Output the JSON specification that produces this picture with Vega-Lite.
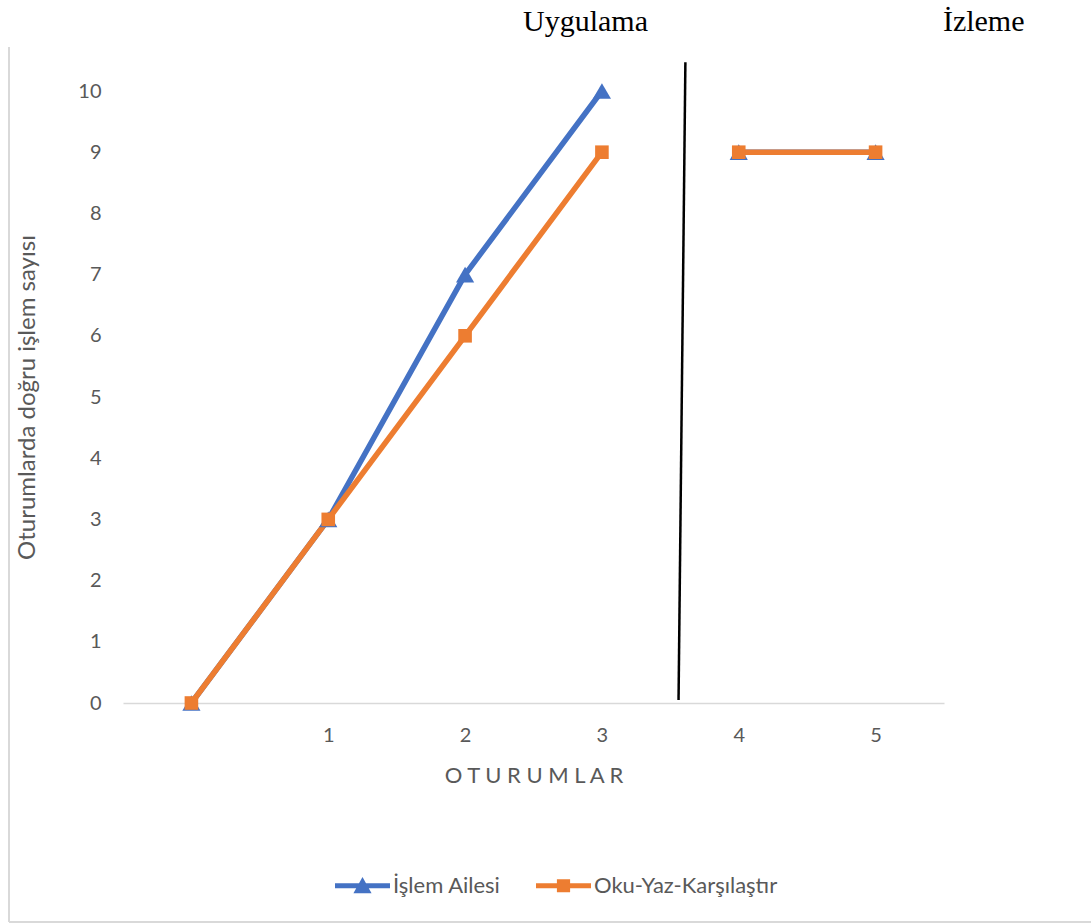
{
  "$schema": "https://vega.github.io/schema/vega-lite/v6.json",
  "width": 821,
  "height": 612,
  "autosize": {"type": "none"},
  "padding": {"left": 123, "top": 91, "right": 147, "bottom": 221},
  "background": "white",
  "config": {
    "view": {"stroke": null},
    "font": "Lato",
    "axis": {"labelColor": "#595959", "titleColor": "#595959", "titleFontWeight": "normal", "labelFontSize": 20, "titleFontSize": 22, "ticks": false, "grid": false}
  },
  "data": {
    "values": [
      {"seri": "İşlem Ailesi", "oturum": 0, "deger": 0, "evre": "Uygulama"},
      {"seri": "İşlem Ailesi", "oturum": 1, "deger": 3, "evre": "Uygulama"},
      {"seri": "İşlem Ailesi", "oturum": 2, "deger": 7, "evre": "Uygulama"},
      {"seri": "İşlem Ailesi", "oturum": 3, "deger": 10, "evre": "Uygulama"},
      {"seri": "İşlem Ailesi", "oturum": 4, "deger": 9, "evre": "İzleme"},
      {"seri": "İşlem Ailesi", "oturum": 5, "deger": 9, "evre": "İzleme"},
      {"seri": "Oku-Yaz-Karşılaştır", "oturum": 0, "deger": 0, "evre": "Uygulama"},
      {"seri": "Oku-Yaz-Karşılaştır", "oturum": 1, "deger": 3, "evre": "Uygulama"},
      {"seri": "Oku-Yaz-Karşılaştır", "oturum": 2, "deger": 6, "evre": "Uygulama"},
      {"seri": "Oku-Yaz-Karşılaştır", "oturum": 3, "deger": 9, "evre": "Uygulama"},
      {"seri": "Oku-Yaz-Karşılaştır", "oturum": 4, "deger": 9, "evre": "İzleme"},
      {"seri": "Oku-Yaz-Karşılaştır", "oturum": 5, "deger": 9, "evre": "İzleme"}
    ]
  },
  "encoding": {
    "x": {
      "field": "oturum",
      "type": "quantitative",
      "scale": {"domain": [-0.5, 5.5], "nice": false, "zero": false},
      "axis": {"values": [1, 2, 3, 4, 5], "title": "O T U R U M L A R", "domainColor": "#d9d9d9", "domainWidth": 1.5, "labelPadding": 22, "titlePadding": 20}
    },
    "y": {
      "field": "deger",
      "type": "quantitative",
      "scale": {"domain": [0, 10], "nice": false},
      "axis": {"values": [0, 1, 2, 3, 4, 5, 6, 7, 8, 9, 10], "title": "Oturumlarda doğru işlem sayısı", "titleFontSize": 24, "domain": false, "labelPadding": 22, "titlePadding": 38}
    }
  },
  "layer": [
    {
      "transform": [{"filter": "datum.seri === 'İşlem Ailesi' && datum.oturum === 0"}],
      "mark": {"type": "rule", "color": "#d9d9d9", "strokeWidth": 2},
      "encoding": {"x": {"datum": -1.333}, "y": {"datum": 10.72}, "y2": {"datum": -3.578}}
    },
    {
      "transform": [{"filter": "datum.seri === 'İşlem Ailesi' && datum.oturum === 0"}],
      "mark": {"type": "rule", "color": "#d9d9d9", "strokeWidth": 2},
      "encoding": {"x": {"datum": -1.333}, "x2": {"datum": 6.58}, "y": {"datum": -3.578}}
    },
    {
      "transform": [{"filter": "datum.seri === 'İşlem Ailesi'"}],
      "mark": {"type": "line", "color": "#4472C4", "strokeWidth": 5.5, "strokeCap": "round", "strokeJoin": "round"},
      "encoding": {"detail": {"field": "evre"}}
    },
    {
      "transform": [{"filter": "datum.seri === 'Oku-Yaz-Karşılaştır'"}],
      "mark": {"type": "line", "color": "#ED7D31", "strokeWidth": 5.5, "strokeCap": "round", "strokeJoin": "round"},
      "encoding": {"detail": {"field": "evre"}}
    },
    {
      "transform": [{"filter": "datum.seri === 'İşlem Ailesi'"}],
      "mark": {"type": "point", "shape": "triangle-up", "filled": true, "opacity": 1, "color": "#4472C4", "size": 330, "strokeWidth": 0}
    },
    {
      "transform": [{"filter": "datum.seri === 'Oku-Yaz-Karşılaştır'"}],
      "mark": {"type": "point", "shape": "square", "filled": true, "opacity": 1, "color": "#ED7D31", "size": 185, "strokeWidth": 0}
    },
    {
      "mark": {"type": "point", "filled": true, "opacity": 0, "size": 10},
      "encoding": {
        "color": {
          "field": "seri",
          "type": "nominal",
          "scale": {"domain": ["İşlem Ailesi", "Oku-Yaz-Karşılaştır"], "range": ["#4472C4", "#ED7D31"]},
          "legend": {"orient": "none", "legendX": 212, "legendY": 767, "direction": "horizontal", "title": null, "symbolSize": 3025, "symbolOpacity": 1, "symbolStrokeWidth": 0, "labelFontSize": 22, "labelColor": "#595959", "labelOffset": 3, "labelLimit": 0, "columnPadding": 35}
        },
        "shape": {
          "field": "seri",
          "type": "nominal",
          "scale": {"domain": ["İşlem Ailesi", "Oku-Yaz-Karşılaştır"], "range": ["M-1,-0.09H1V0.09H-1Z M-0.33,0.27L0,-0.32L0.33,0.27Z", "M-1,-0.09H1V0.09H-1Z M-0.24,-0.24H0.24V0.24H-0.24Z"]},
          "legend": {"orient": "none", "legendX": 212, "legendY": 767, "direction": "horizontal", "title": null, "symbolSize": 3025, "symbolOpacity": 1, "symbolStrokeWidth": 0, "labelFontSize": 22, "labelColor": "#595959", "labelOffset": 3, "labelLimit": 0, "columnPadding": 35}
        }
      }
    },
    {
      "transform": [{"filter": "datum.seri === 'İşlem Ailesi' && datum.oturum === 0"}],
      "mark": {"type": "rule", "color": "black", "strokeWidth": 2.5},
      "encoding": {"x": {"datum": 3.61}, "y": {"datum": 10.47}, "x2": {"datum": 3.56}, "y2": {"datum": 0.05}}
    },
    {
      "transform": [{"filter": "datum.seri === 'İşlem Ailesi' && datum.oturum === 0"}],
      "mark": {"type": "text", "font": "Liberation Serif", "fontSize": 30, "fontWeight": "normal", "color": "black", "baseline": "middle", "align": "center"},
      "encoding": {"x": {"datum": 2.88}, "y": {"datum": 11.13}, "text": {"value": "Uygulama"}}
    },
    {
      "transform": [{"filter": "datum.seri === 'İşlem Ailesi' && datum.oturum === 0"}],
      "mark": {"type": "text", "font": "Liberation Serif", "fontSize": 30, "fontWeight": "normal", "color": "black", "baseline": "middle", "align": "center"},
      "encoding": {"x": {"datum": 5.79}, "y": {"datum": 11.13}, "text": {"value": "İzleme"}}
    }
  ]
}
